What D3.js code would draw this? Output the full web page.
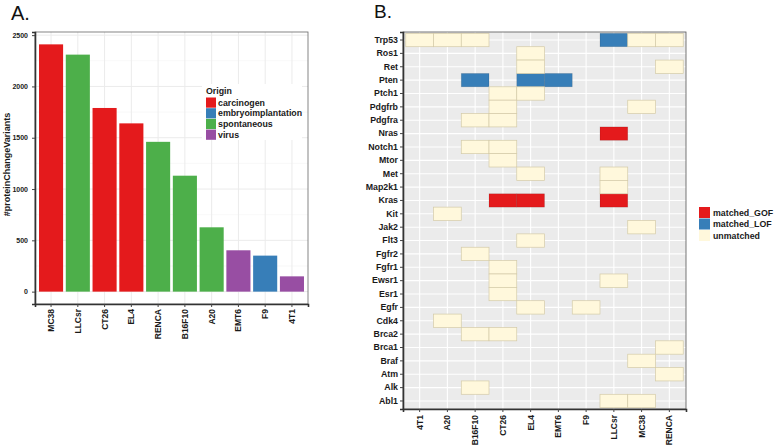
<!DOCTYPE html>
<html><head><meta charset="utf-8">
<script src="https://cdn.jsdelivr.net/npm/d3@7"></script>
<style>body{margin:0;background:#fff}svg{display:block}text{font-family:"Liberation Sans",Arial,sans-serif}</style>
</head><body>
<svg id="c" width="778" height="447"></svg>
<script>
// ---- Panel A data ----
const strainsA = ["MC38","LLCsr","CT26","EL4","RENCA","B16F10","A20","EMT6","F9","4T1"];
const variantCounts = [2410,2310,1790,1640,1460,1130,627,403,351,149];
const originsA = ["carcinogen","spontaneous","carcinogen","carcinogen","spontaneous","spontaneous","spontaneous","virus","embryoimplantation","virus"];
const originLevels = ["carcinogen","embryoimplantation","spontaneous","virus"];
const originColors = ["#e41a1c","#377eb8","#4daf4a","#984ea3"];
const yTicksA = [0,500,1000,1500,2000,2500];

// ---- Panel B data ----
const strainsB = ["4T1","A20","B16F10","CT26","EL4","EMT6","F9","LLCsr","MC38","RENCA"];
const genes = ["Trp53","Ros1","Ret","Pten","Ptch1","Pdgfrb","Pdgfra","Nras","Notch1","Mtor","Met","Map2k1","Kras","Kit","Jak2","Flt3","Fgfr2","Fgfr1","Ewsr1","Esr1","Egfr","Cdk4","Brca2","Brca1","Braf","Atm","Alk","Abl1"];
const statusLevels = ["matched_GOF","matched_LOF","unmatched"];
const statusColors = ["#e41a1c","#377eb8","#fff8dc"];
const matchedGOF = [["Nras","LLCsr"],["Kras","CT26"],["Kras","EL4"],["Kras","LLCsr"]];
const matchedLOF = [["Trp53","LLCsr"],["Pten","B16F10"],["Pten","EL4"],["Pten","EMT6"]];
const unmatched = [
 ["Trp53","4T1"],["Trp53","A20"],["Trp53","B16F10"],["Trp53","MC38"],["Trp53","RENCA"],
 ["Ros1","EL4"],["Ret","EL4"],["Ret","RENCA"],
 ["Ptch1","CT26"],["Ptch1","EL4"],["Pdgfrb","CT26"],["Pdgfrb","MC38"],
 ["Pdgfra","B16F10"],["Pdgfra","CT26"],["Notch1","B16F10"],["Notch1","CT26"],
 ["Mtor","CT26"],["Met","EL4"],["Met","LLCsr"],["Map2k1","LLCsr"],
 ["Kit","A20"],["Jak2","MC38"],["Flt3","EL4"],["Fgfr2","B16F10"],["Fgfr1","CT26"],
 ["Ewsr1","CT26"],["Ewsr1","LLCsr"],["Esr1","CT26"],["Egfr","EL4"],["Egfr","F9"],
 ["Cdk4","A20"],["Brca2","B16F10"],["Brca2","CT26"],["Brca1","RENCA"],["Braf","MC38"],
 ["Atm","RENCA"],["Alk","B16F10"],["Abl1","LLCsr"],["Abl1","MC38"]
];

const svg = d3.select("#c");
const FONT = 'font-weight:bold;fill:#1a1a1a';

// ================= Panel A =================
const A = {l:35, r:308, t:32, b:304};
const xA = d3.scaleBand().domain(strainsA).range([A.l, A.r]).paddingInner(0.1).paddingOuter(0.15);
const maxA = d3.max(variantCounts), expA = maxA*0.05;
const yA = d3.scaleLinear().domain([-expA, maxA+expA]).range([A.b, A.t]);
const colA = d3.scaleOrdinal().domain(originLevels).range(originColors);
const gA = svg.append("g");
gA.append("rect").attr("x",A.l).attr("y",A.t).attr("width",A.r-A.l).attr("height",A.b-A.t).attr("fill","#fff");
const minorA = d3.range(250, maxA+expA, 500);
gA.selectAll(".mn").data(minorA).join("line").attr("x1",A.l).attr("x2",A.r)
  .attr("y1",d=>yA(d)).attr("y2",d=>yA(d)).attr("stroke","#f4f4f4").attr("stroke-width",0.6);
gA.selectAll(".mj").data(yTicksA).join("line").attr("x1",A.l).attr("x2",A.r)
  .attr("y1",d=>yA(d)).attr("y2",d=>yA(d)).attr("stroke","#ebebeb").attr("stroke-width",1);
gA.selectAll(".vg").data(strainsA).join("line").attr("y1",A.t).attr("y2",A.b)
  .attr("x1",d=>xA(d)+xA.bandwidth()/2).attr("x2",d=>xA(d)+xA.bandwidth()/2).attr("stroke","#ebebeb").attr("stroke-width",1);
gA.selectAll(".bar").data(strainsA).join("rect")
  .attr("x",d=>xA(d)).attr("width",xA.bandwidth())
  .attr("y",(d,i)=>yA(variantCounts[i])).attr("height",(d,i)=>yA(0)-yA(variantCounts[i]))
  .attr("fill",(d,i)=>colA(originsA[i]));
gA.append("rect").attr("x",A.l).attr("y",A.t).attr("width",A.r-A.l).attr("height",A.b-A.t)
  .attr("fill","none").attr("stroke","#666").attr("stroke-width",0.8);
const axLA = gA.append("g").attr("transform",`translate(${A.l},0)`)
  .call(d3.axisLeft(yA).tickValues(yTicksA).tickFormat(d3.format("d")).tickSize(3).tickPadding(4));
const axBA = gA.append("g").attr("transform",`translate(0,${A.b})`)
  .call(d3.axisBottom(xA).tickSize(3).tickPadding(2));
[axLA,axBA].forEach(a=>{a.select(".domain").attr("stroke","#333").attr("stroke-width",1.6);
  a.selectAll(".tick line").attr("stroke","#444");
  a.selectAll("text").attr("style",FONT).attr("font-size","8.5px");});
axLA.selectAll("text").attr("font-size","7px");
axBA.selectAll("text").attr("transform","rotate(-90)").attr("text-anchor","end")
  .attr("dy","0.35em").attr("x",-5).attr("y",0);
gA.append("text").attr("transform",`translate(9.5,164.5) rotate(-90)`).attr("text-anchor","middle")
  .attr("style",FONT).attr("font-size","9px").text("#proteinChangeVariants");
gA.append("text").attr("x",11).attr("y",20).attr("font-size","20px").attr("fill","#111").text("A.");
// legend A
const lgA = gA.append("g").attr("transform","translate(206,84)");
lgA.append("rect").attr("x",-4).attr("y",0).attr("width",100).attr("height",56).attr("fill","#fff");
lgA.append("text").attr("x",0).attr("y",10).attr("style",FONT).attr("font-size","8.8px").text("Origin");
originLevels.forEach((o,i)=>{
  lgA.append("rect").attr("x",0).attr("y",13.5+i*10.7).attr("width",10).attr("height",10.2).attr("fill",colA(o));
  lgA.append("text").attr("x",12).attr("y",13.5+i*10.7+5.1).attr("dy","0.35em").attr("style",FONT).attr("font-size","8.8px").text(o);
});

// ================= Panel B =================
const B = {l:403, r:686, t:32, b:409};
const xB = d3.scaleBand().domain(strainsB).range([B.l,B.r]).paddingInner(0).paddingOuter(0.1);
const yB = d3.scaleBand().domain(genes).range([B.t,B.b]).paddingInner(0).paddingOuter(0.1);
const colB = d3.scaleOrdinal().domain(statusLevels).range(statusColors);
const gB = svg.append("g");
gB.append("rect").attr("x",B.l).attr("y",B.t).attr("width",B.r-B.l).attr("height",B.b-B.t).attr("fill","#ebebeb");
gB.selectAll(".vg").data(strainsB).join("line").attr("y1",B.t).attr("y2",B.b)
  .attr("x1",d=>xB(d)+xB.bandwidth()/2).attr("x2",d=>xB(d)+xB.bandwidth()/2).attr("stroke","#fff").attr("stroke-width",1.1);
gB.selectAll(".hg").data(genes).join("line").attr("x1",B.l).attr("x2",B.r)
  .attr("y1",d=>yB(d)+yB.bandwidth()/2).attr("y2",d=>yB(d)+yB.bandwidth()/2).attr("stroke","#fff").attr("stroke-width",1.1);
const cells = [].concat(
  matchedGOF.map(d=>({g:d[0],s:d[1],st:"matched_GOF"})),
  matchedLOF.map(d=>({g:d[0],s:d[1],st:"matched_LOF"})),
  unmatched.map(d=>({g:d[0],s:d[1],st:"unmatched"})));
gB.selectAll(".cell").data(cells).join("rect")
  .attr("x",d=>xB(d.s)).attr("y",d=>yB(d.g)).attr("width",xB.bandwidth()).attr("height",yB.bandwidth())
  .attr("fill",d=>colB(d.st)).attr("stroke",d=>d.st==="unmatched"?"#d4cba8":"rgba(0,0,0,0.15)").attr("stroke-width",0.7);
gB.append("rect").attr("x",B.l).attr("y",B.t).attr("width",B.r-B.l).attr("height",B.b-B.t)
  .attr("fill","none").attr("stroke","#555").attr("stroke-width",0.8);
const axLB = gB.append("g").attr("transform",`translate(${B.l},0)`).call(d3.axisLeft(yB).tickSize(3).tickPadding(2));
const axBB = gB.append("g").attr("transform",`translate(0,${B.b})`).call(d3.axisBottom(xB).tickSize(3).tickPadding(2));
[axLB,axBB].forEach(a=>{a.select(".domain").attr("stroke","#333").attr("stroke-width",1.6);
  a.selectAll(".tick line").attr("stroke","#444");
  a.selectAll("text").attr("style",FONT).attr("font-size","8.8px");});
axBB.selectAll("text").attr("font-size","8.5px").attr("transform","rotate(-90)").attr("text-anchor","end")
  .attr("dy","0.35em").attr("x",-6).attr("y",0);
gB.append("text").attr("x",374).attr("y",17.5).attr("font-size","19px").attr("fill","#111").text("B.");
// legend B
const lgB = gB.append("g").attr("transform","translate(699,207)");
statusLevels.forEach((s,i)=>{
  lgB.append("rect").attr("x",0).attr("y",i*11.5).attr("width",11).attr("height",11).attr("fill",colB(s));
  lgB.append("text").attr("x",14).attr("y",i*11.5+5.5).attr("dy","0.35em").attr("style",FONT).attr("font-size","8.8px").text(s);
});
</script>
</body></html>
